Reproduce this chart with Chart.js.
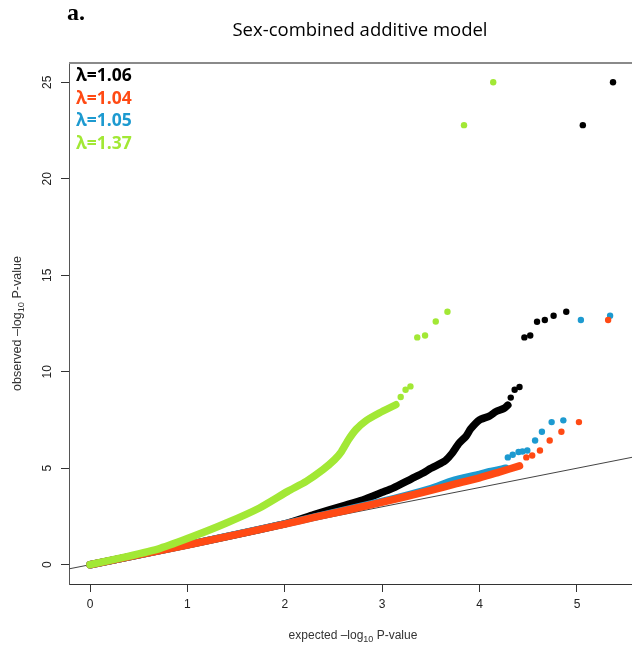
<!DOCTYPE html>
<html>
<head>
<meta charset="utf-8">
<script src="https://cdn.jsdelivr.net/npm/chart.js@4.4.0/dist/chart.umd.min.js"></script>
<style>
  html, body { margin: 0; padding: 0; background: #fff; }
</style>
</head>
<body>
<canvas id="qqChart" width="632" height="649"></canvas>
<script>
// ==== data: [expected, observed] (-log10 P) ====
// dense part of each curve (drawn as a thick band)
const blackBand = [[0,0],[1,1.03],[2,2.12],[2.3,2.6],[2.6,3.05],[2.8,3.35],[3.0,3.75],[3.11,3.97],
  [3.3,4.45],[3.42,4.75],[3.5,5.0],[3.6,5.25],[3.65,5.4],[3.72,5.79],[3.79,6.3],[3.86,6.65],
  [3.91,7.05],[4.0,7.51],[4.1,7.7],[4.17,7.94],[4.25,8.1],[4.29,8.27]];
const orangeBand = [[0,0],[1,1.02],[2,2.1],[2.3,2.45],[2.97,3.2],[3.5,3.85],[3.76,4.2],[4.0,4.5],[4.2,4.8],[4.41,5.12]];
const blueBand = [[0,0],[1,1.03],[2,2.12],[3,3.28],[3.5,3.95],[3.72,4.35],[4.0,4.68],[4.1,4.82],[4.27,5.0]];
const greenBand = [[0,0],[0.38,0.42],[0.72,0.85],[1.06,1.47],[1.4,2.16],[1.74,2.94],[2.03,3.8],[2.22,4.32],
  [2.39,4.92],[2.51,5.44],[2.58,5.85],[2.65,6.45],[2.73,7.0],[2.83,7.45],[2.97,7.86],[3.14,8.29]];

// sparse tail points
const blackTail = [[4.32,8.66],[4.36,9.07],[4.41,9.21],[4.46,11.78],[4.52,11.88],[4.59,12.59],
  [4.67,12.68],[4.76,12.9],[4.89,13.11],[5.06,22.78],[5.37,25.0]];
const orangeTail = [[4.48,5.56],[4.54,5.66],[4.62,5.92],[4.72,6.44],[4.84,6.89],[5.02,7.39],[5.32,12.68]];
const blueTail = [[4.29,5.56],[4.34,5.7],[4.4,5.84],[4.44,5.87],[4.49,5.92],[4.57,6.44],[4.64,6.89],
  [4.74,7.39],[4.86,7.48],[5.04,12.68],[5.34,12.9]];
const greenTail = [[3.19,8.69],[3.24,9.07],[3.29,9.24],[3.36,11.78],[3.44,11.88],[3.55,12.6],
  [3.67,13.11],[3.84,22.78],[4.14,25.0]];

const lambdaLabels = ['λ=1.06', 'λ=1.04', 'λ=1.05', 'λ=1.37'];
const xTicks = [0, 1, 2, 3, 4, 5];
const yTicks = [0, 5, 10, 15, 20, 25];
const xRange = [-0.216, 5.616];   // R plot region (right side is cropped)
const yRange = [-1, 26];

const cBlack = '#000000', cOrange = '#ff4a14', cBlue = '#1d9ad0', cGreen = '#a2e835';

const toXY = pts => pts.map(p => ({ x: p[0], y: p[1] }));

function band(pts, color, order) {
    return {
        type: 'line', data: toXY(pts), borderColor: color, borderWidth: 7.5,
        borderCapStyle: 'round', borderJoinStyle: 'round', pointRadius: 0, tension: 0.2, order: order
    };
}
function tail(pts, color, order) {
    return {
        type: 'scatter', data: toXY(pts), backgroundColor: color, borderWidth: 0,
        pointRadius: 3.2, order: order
    };
}

// ==== text and frame drawn around the plot ====
const decorations = {
    id: 'decorations',
    afterDraw(chart) {
        const ctx = chart.ctx;
        const area = chart.chartArea;
        const xs = chart.scales.x;
        ctx.save();

        // top frame line (runs to the cropped edge)
        ctx.strokeStyle = '#8a8a8a';
        ctx.lineWidth = 2;
        ctx.beginPath();
        ctx.moveTo(area.left, area.top);
        ctx.lineTo(chart.width, area.top);
        ctx.stroke();

        // panel letter + title
        ctx.fillStyle = '#000';
        ctx.textBaseline = 'middle';
        ctx.textAlign = 'left';
        ctx.font = 'bold 24px "Liberation Serif"';
        ctx.fillText('a.', 67, 14);
        ctx.textAlign = 'center';
        ctx.font = '18.5px "Open Sans"';
        ctx.fillText('Sex-combined additive model', 360, 31);

        // lambda labels
        const cols = [cBlack, cOrange, cBlue, cGreen];
        ctx.textAlign = 'left';
        ctx.font = 'bold 17.5px "Open Sans"';
        lambdaLabels.forEach((t, i) => {
            ctx.fillStyle = cols[i];
            ctx.fillText(t, 76, 76 + i * 22.7);
        });

        // axis titles with subscript 10
        function subTitle(pre, post, cx, cy, rot, size) {
            ctx.save();
            ctx.translate(cx, cy);
            ctx.rotate(rot);
            ctx.fillStyle = '#333';
            ctx.textBaseline = 'alphabetic';
            ctx.textAlign = 'left';
            const big = size + 'px "Liberation Sans"', small = (size * 0.75) + 'px "Liberation Sans"';
            ctx.font = big; const w1 = ctx.measureText(pre).width;
            ctx.font = small; const w2 = ctx.measureText('10').width;
            ctx.font = big; const w3 = ctx.measureText(post).width;
            let x = -(w1 + w2 + w3) / 2;
            ctx.fillText(pre, x, 4); x += w1;
            ctx.font = small; ctx.fillText('10', x, 7); x += w2;
            ctx.font = big; ctx.fillText(post, x, 4);
            ctx.restore();
        }
        const midX = xs.getPixelForValue((xRange[0] + xRange[1]) / 2);
        subTitle('expected \u2013log', ' P-value', midX, 635, 0, 12);
        subTitle('observed \u2013log', ' P-value', 17, (area.top + area.bottom) / 2, -Math.PI / 2, 12.5);
        ctx.restore();
    }
};

const ctx = document.getElementById('qqChart').getContext('2d');
const qqChart = new Chart(ctx, {
    type: 'scatter',
    data: {
        datasets: [
            // reference line y = x
            { type: 'line', data: [{ x: xRange[0], y: xRange[0] }, { x: xRange[1], y: xRange[1] }],
              borderColor: '#444', borderWidth: 1, pointRadius: 0, order: 9 },
            band(blackBand, cBlack, 4), tail(blackTail, cBlack, 4),
            band(blueBand, cBlue, 3), tail(blueTail, cBlue, 3),
            band(orangeBand, cOrange, 2), tail(orangeTail, cOrange, 2),
            band(greenBand, cGreen, 1), tail(greenTail, cGreen, 1)
        ]
    },
    options: {
        responsive: false,
        animation: false,
        layout: { autoPadding: false, padding: { top: 63, left: 0, right: 0, bottom: 0 } },
        plugins: { legend: { display: false }, tooltip: { enabled: false } },
        scales: {
            x: {
                type: 'linear', min: xRange[0], max: 5.565,
                afterBuildTicks: s => { s.ticks = xTicks.map(v => ({ value: v })); },
                afterFit: s => { s.height = 65; s.paddingLeft = 0; s.paddingRight = 0; },
                grid: { drawOnChartArea: false, tickLength: 8, tickColor: '#333' },
                border: { color: '#333', width: 1 },
                ticks: { color: '#222', padding: 5, font: { family: 'Liberation Sans', size: 12 } }
            },
            y: {
                type: 'linear', min: yRange[0], max: yRange[1],
                afterBuildTicks: s => { s.ticks = yTicks.map(v => ({ value: v })); },
                afterFit: s => { s.width = 69; s.paddingTop = 0; s.paddingBottom = 0; },
                grid: { drawOnChartArea: false, tickLength: 8, tickColor: '#333' },
                border: { color: '#555', width: 1 },
                ticks: { color: '#222', padding: 7, minRotation: 90, maxRotation: 90, crossAlign: 'center',
                         font: { family: 'Liberation Sans', size: 12 } }
            }
        }
    },
    plugins: [decorations]
});
</script>
</body>
</html>
